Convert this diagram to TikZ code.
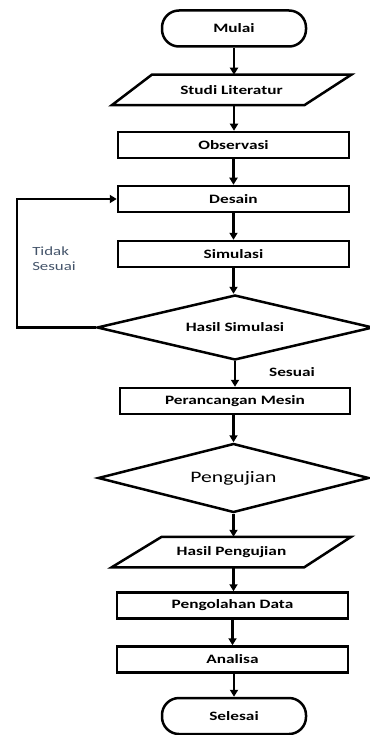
\documentclass[tikz,border=0pt]{standalone}
\usepackage{fontspec}
\setmainfont{Carlito}[FakeStretch=1.35]
\usetikzlibrary{shapes.geometric,arrows.meta}
\definecolor{labgray}{HTML}{44546A}
\begin{document}
\begin{tikzpicture}[x=1pt,y=-1pt,line width=2.5pt,
  every node/.style={font=\fontsize{12.8}{15}\selectfont\bfseries,inner sep=0pt},
  box/.style={draw,rectangle,minimum width=231pt,minimum height=26pt},
  term/.style={draw,rectangle,rounded corners=17pt,minimum width=144pt,minimum height=36pt},
  io/.style={rectangle,minimum width=237pt,minimum height=28pt},
  dec/.style={draw,diamond,aspect=4.2,minimum height=65pt},
  arr/.style={-{Triangle[length=7pt,width=8pt]}}
]
\useasboundingbox (0,0) rectangle (369,735);
\node[term] (mulai) at (234,28.5) {Mulai};
\node[io] (studi) at (231.5,90) {Studi Literatur};
\draw[line join=miter] ([xshift=40pt]studi.north west) -- (studi.north east)
  -- ([xshift=-47pt]studi.south east) -- (studi.south west) -- cycle;
\node[box] (obs) at (233.5,145) {Observasi};
\node[box] (des) at (233.5,199) {Desain};
\node[box] (sim) at (233.5,254) {Simulasi};
\node[dec,minimum width=276pt] (hs) at (235,327.5) {Hasil Simulasi};
\node[box,minimum width=230pt] (per) at (235,401) {Perancangan Mesin};
\node[dec,minimum width=271pt,minimum height=69pt,font=\fontsize{16}{19}\selectfont] (uji) at (233.5,478) {Pengujian};
\node[io] (hp) at (231.5,552) {Hasil Pengujian};
\draw[line join=miter] ([xshift=50pt]hp.north west) -- (hp.north east)
  -- ([xshift=-47pt]hp.south east) -- (hp.south west) -- cycle;
\node[box] (olah) at (232.5,605.5) {Pengolahan Data};
\node[box] (ana) at (232.5,659.5) {Analisa};
\node[term] (sel) at (234,716) {Selesai};
\node[anchor=north west,align=left,font=\fontsize{12.5}{15}\selectfont,text=labgray] (tidak) at (31,246) {Tidak\\Sesuai};
\node (ses) at (292,372) {Sesuai};
\coordinate (lx) at (17,0);
\draw[arr] (mulai.south) -- (mulai.south |- studi.north);
\draw[arr] (mulai.south |- studi.south) -- (mulai.south |- obs.north);
\draw[arr] (obs.south) -- (des.north);
\draw[arr] (des.south) -- (sim.north);
\draw[arr] (sim.south) -- (sim.south |- hs.north);
\draw[arr] (hs.south) -- (hs.south |- per.north);
\draw[arr] (per.south -| uji.north) -- (uji.north);
\draw[arr] (uji.south) -- (uji.south |- hp.north);
\draw[arr] (uji.south |- hp.south) -- (uji.south |- olah.north);
\draw[arr] (olah.south) -- (ana.north);
\draw[arr] (ana.south) -- (ana.south -| sel.north) -- (sel.north);
\draw[arr] (hs.west) -| (lx |- des.west) -- (des.west);
\end{tikzpicture}
\end{document}
